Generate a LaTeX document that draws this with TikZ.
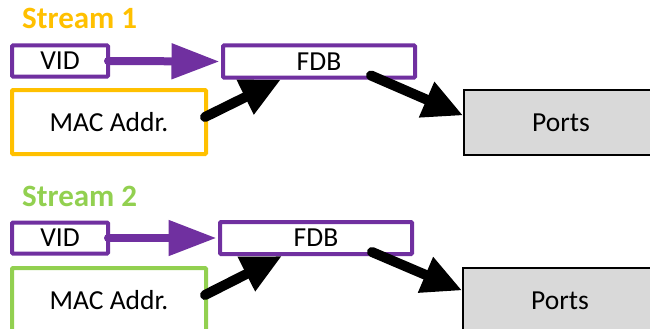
\documentclass[tikz,border=0pt]{standalone}
\usepackage{fontspec}
\setmainfont{Carlito}
\usetikzlibrary{arrows.meta,calc}
\definecolor{vpurple}{HTML}{7030A0}
\definecolor{sorange}{HTML}{FFC000}
\definecolor{sgreen}{HTML}{92D050}
\definecolor{pgray}{HTML}{D9D9D9}
\tikzset{
  box/.style={draw, line width=4pt, inner sep=0pt, fill=white, font=\fontsize{27.5}{30}\selectfont, rounded corners=1pt},
  vidbox/.style={box, draw=vpurple, minimum width=96pt, minimum height=31pt},
  fdbbox/.style={box, draw=vpurple, minimum width=192pt, minimum height=32pt},
  macbox/.style={box, minimum width=194pt, minimum height=64pt},
  portbox/.style={draw=black, line width=1.5pt, fill=pgray, inner sep=0pt, minimum width=194pt, minimum height=65pt, font=\fontsize{27.5}{30}\selectfont},
  streamlbl/.style={font=\fontsize{31}{34}\selectfont\bfseries, anchor=base west, inner sep=0pt},
  purplearrow/.style={draw=vpurple, line width=8pt, line cap=round, -{Triangle[length=48pt,width=34pt]}, fill=vpurple},
  blackarrow/.style={draw=black, line width=10pt, line cap=round, -{Triangle[length=40pt,width=36pt]}},
}
\begin{document}
\begin{tikzpicture}[x=1pt,y=-1pt]
\useasboundingbox (0,0) rectangle (650,329);
\clip (0,0) rectangle (650,329);
% Stream 1
\node[streamlbl, text=sorange] (s1) at (22,28.5) {Stream 1};
\node[vidbox] (vid1) at (60,61) {VID};
\node[fdbbox] (fdb1) at (319,61.5) {FDB};
\node[macbox, draw=sorange] (mac1) at (109,122) {MAC Addr.};
\node[portbox] (ports1) at (561,122.5) {Ports};
\draw[purplearrow] ($(vid1.east)+(-2,0)$) -- ($(fdb1.west)+(-1.5,0)$);
\draw[blackarrow] ($(mac1.east)+(-3,-5)$) -- ($(fdb1.south west)+(60,0)$);
\draw[blackarrow] ($(fdb1.south west)+(150,-4)$) -- ($(ports1.west)+(0,-7)$);
% Stream 2
\node[streamlbl, text=sgreen] (s2) at (22,206.5) {Stream 2};
\node[vidbox] (vid2) at (60,238) {VID};
\node[fdbbox] (fdb2) at (316,238) {FDB};
\node[macbox, draw=sgreen] (mac2) at (109,300) {MAC Addr.};
\node[portbox] (ports2) at (560,300.5) {Ports};
\draw[purplearrow] ($(vid2.east)+(-2,0)$) -- ($(fdb2.west)+(-1.5,0)$);
\draw[blackarrow] ($(mac2.east)+(-3,-5)$) -- ($(fdb2.south west)+(64,0)$);
\draw[blackarrow] ($(fdb2.south west)+(154,-4)$) -- ($(ports2.west)+(0,-10)$);
\end{tikzpicture}
\end{document}
